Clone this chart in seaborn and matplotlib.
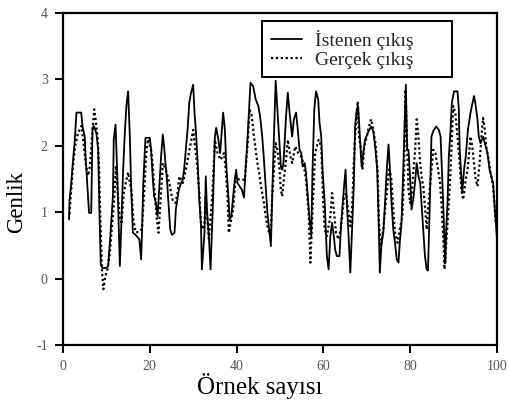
import matplotlib
matplotlib.use("Agg")
import matplotlib.pyplot as plt
import seaborn as sns
import pandas as pd

# ---- data ----
x_istenen = [1.4, 1.5, 1.9, 2.3, 2.7, 3.1, 4.2, 4.5, 5.0, 5.2, 5.5, 6.0, 6.5, 6.8, 7.1, 7.7, 8.1, 8.4, 8.7, 9.1,
             10.0, 10.4, 10.8, 11.5, 11.7, 12.1, 12.5, 13.1, 13.4, 13.8, 14.2, 14.6, 15.0, 15.4, 15.7, 16.1, 16.7,
             17.6, 18.0, 18.2, 18.5, 19.0, 20.0, 20.3, 20.7, 21.0, 21.4, 21.8, 22.3, 22.6, 23.0, 23.3, 23.6, 23.9,
             24.3, 24.7, 25.1, 25.7, 26.0, 26.7, 27.2, 27.6, 27.9, 28.3, 28.7, 29.1, 29.5, 30.0, 30.3, 30.6, 31.0,
             31.4, 31.8, 32.0, 32.6, 32.9, 33.2, 33.6, 34.0, 34.6, 35.0, 35.3, 35.8, 36.2, 36.6, 36.9, 37.3, 37.6,
             38.1, 38.4, 38.8, 39.2, 39.6, 39.9, 40.2, 40.7, 41.2, 41.7, 42.1, 42.5, 42.9, 43.2, 43.8, 44.4, 45.0,
             45.4, 45.9, 46.3, 46.7, 47.1, 47.5, 47.9, 48.2, 48.6, 49.0, 49.4, 49.8, 50.2, 50.5, 50.8, 51.4, 51.8,
             52.2, 52.8, 53.2, 53.7, 54.1, 54.5, 54.9, 55.2, 55.7, 56.0, 56.5, 56.8, 57.2, 57.5, 57.9, 58.3, 58.8,
             59.1, 59.5, 59.8, 60.3, 60.6, 60.8, 61.2, 61.6, 62.0, 62.4, 62.7, 63.1, 63.7, 64.1, 64.7, 65.1, 65.4,
             65.8, 66.2, 66.6, 67.0, 67.3, 67.7, 68.0, 68.4, 68.8, 69.2, 69.6, 70.2, 71.0, 71.5, 72.0, 72.4, 72.7,
             72.9, 73.0, 73.4, 73.8, 74.2, 74.6, 75.0, 75.3, 75.7, 76.1, 76.5, 76.9, 77.3, 77.6, 78.0, 78.4, 78.8,
             79.0, 79.3, 79.6, 80.0, 80.3, 80.7, 81.1, 81.5, 81.9, 82.3, 82.6, 83.0, 83.4, 83.8, 84.1, 84.5, 84.9,
             85.3, 86.0, 86.6, 87.0, 87.3, 87.6, 87.9, 88.1, 88.3, 88.6, 88.9, 89.3, 89.6, 90.1, 90.9, 91.2, 91.4,
             91.8, 92.0, 92.4, 92.8, 93.3, 93.9, 94.7, 95.0, 95.5, 95.8, 96.2, 96.8, 97.2, 97.8, 98.3, 98.7, 99.1,
             99.5, 100.0]
y_istenen = [0.89, 1.17, 1.44, 1.77, 2.07, 2.5, 2.5, 2.29, 2.14, 1.84, 1.52, 0.99, 0.99, 2.27, 2.3, 2.19, 1.94, 0.99, 0.21, 0.16,
             0.16, 0.19, 0.54, 1.24, 2.1, 2.32, 1.59, 0.19, 0.74, 1.54, 2.14, 2.6, 2.82, 2.14, 1.39, 0.69, 0.66,
             0.59, 0.29, 0.69, 1.44, 2.12, 2.12, 1.94, 1.49, 1.24, 1.14, 0.94, 1.49, 1.84, 2.17, 1.99, 1.74, 1.54,
             1.14, 0.74, 0.66, 0.69, 1.04, 1.34, 1.44, 1.49, 1.64, 1.94, 2.24, 2.65, 2.8, 2.92, 2.5, 2.24, 1.79,
             1.19, 0.79, 0.14, 0.69, 1.54, 0.99, 0.64, 0.14, 1.24, 2.14, 2.27, 2.09, 1.89, 2.24, 2.5, 2.24, 1.74,
             1.24, 0.89, 0.94, 1.24, 1.49, 1.64, 1.44, 1.39, 1.34, 1.22, 1.69, 2.09, 2.6, 2.95, 2.9, 2.7, 2.6,
             2.45, 2.14, 1.79, 1.39, 0.99, 0.74, 0.49, 1.24, 2.14, 2.98, 2.55, 2.14, 1.69, 1.64, 1.74, 2.45, 2.8,
             2.5, 2.14, 2.4, 2.5, 2.24, 1.94, 1.89, 1.69, 1.74, 1.59, 1.14, 0.89, 0.64, 1.64, 2.55, 2.82, 2.7,
             2.35, 2.14, 1.64, 1.14, 0.64, 0.34, 0.14, 0.64, 0.84, 0.64, 0.44, 0.34, 0.34, 0.84, 1.34, 1.64, 1.14,
             0.64, 0.09, 0.74, 1.39, 2.29, 2.55, 2.6, 2.14, 1.69, 1.89, 2.09, 2.19, 2.29, 2.22, 1.94, 1.64, 0.94,
             0.34, 0.09, 0.54, 0.69, 1.14, 1.64, 2.02, 1.69, 1.14, 0.74, 0.54, 0.29, 0.24, 0.54, 0.84, 1.64, 2.5,
             2.92, 1.94, 1.94, 1.49, 1.04, 1.19, 1.44, 1.74, 1.54, 1.44, 1.14, 0.74, 0.34, 0.14, 0.12, 1.09, 2.14,
             2.22, 2.29, 2.24, 2.14, 1.64, 1.14, 0.54, 0.24, 0.74, 1.14, 1.84, 2.24, 2.65, 2.82, 2.82, 2.55, 1.94,
             1.49, 1.29, 1.64, 1.84, 2.24, 2.5, 2.75, 2.65, 2.4, 2.14, 2.04, 2.14, 2.04, 1.89, 1.64, 1.54, 1.44,
             1.04, 0.6]

x_gercek = [1.4, 2.3, 2.8, 3.5, 4.3, 4.8, 5.3, 5.8, 6.2, 6.8, 7.2, 7.6, 8.0, 8.3, 8.6, 9.0, 9.3, 9.8, 10.3, 10.8,
            11.3, 11.8, 12.2, 12.6, 13.1, 13.5, 14.0, 14.5, 15.0, 15.4, 15.8, 16.2, 16.7,
            17.5, 18.2, 18.6, 19.2, 19.6, 20.3, 20.7, 21.0, 21.6, 22.0, 22.5, 23.0, 23.7, 24.5, 24.9, 25.3, 25.9,
            26.4, 26.8, 27.2, 27.6, 28.3, 29.0, 29.5, 30.0, 30.6, 31.0, 31.4, 31.8, 32.2, 32.6, 32.9,
            33.6, 34.4, 35.0, 35.6, 36.3, 37.1, 37.5, 37.9, 38.2, 38.6, 39.2, 39.8, 40.6, 41.3, 41.9, 42.5, 43.0,
            43.5, 44.0, 44.4, 44.8, 45.2, 45.5, 45.9, 46.3, 46.7, 47.1, 47.5, 47.9, 48.2, 49.0, 49.4, 49.9, 50.2,
            50.5, 50.8, 51.4, 51.8, 52.4, 52.8, 53.5, 54.2, 54.9, 55.4, 56.0, 56.6, 57.0, 57.5, 58.1, 58.9, 59.5,
            59.9, 60.3, 60.8, 61.6, 62.0, 62.4, 62.9, 63.5, 64.1, 64.7, 65.2, 65.8, 66.2, 66.6, 67.0,
            67.3, 67.9, 68.2, 68.7, 69.0, 69.4, 70.0, 70.5, 71.0, 71.5, 72.0, 72.5, 72.8, 73.3, 73.8, 74.2, 74.6,
            75.1, 75.6, 76.1, 76.5, 77.1, 77.6, 78.2, 78.6, 78.9, 79.6, 80.0, 80.3, 80.7, 81.1, 81.5, 81.9, 82.3,
            82.6, 83.0, 83.4, 83.8,
            84.1, 84.9, 85.3, 85.8, 86.3, 86.8, 87.2, 87.6, 87.9, 88.3, 88.9, 89.3, 89.9, 90.4, 90.9, 91.4, 91.8,
            92.2, 92.7, 93.3, 93.9, 94.3, 94.7, 95.1, 95.5, 96.0, 96.4, 96.8, 97.2, 97.5, 98.1, 98.5, 99.1, 99.5,
            99.7]
y_gercek = [0.9, 1.7, 2.0, 2.2, 2.3, 2.0, 1.7, 1.55, 1.7, 2.2, 2.55, 2.35, 2.1, 1.7, 0.9, 0.1, -0.16, 0.05, 0.15, 0.4,
            0.8, 1.2, 1.7, 1.3, 0.9, 0.85, 1.3, 1.45, 1.6, 1.45, 1.3, 0.9, 0.7,
            0.7, 0.75, 1.2, 1.9, 2.1, 1.94, 1.69, 1.39, 0.9, 0.69, 1.2, 1.74, 1.64, 1.44, 1.29, 1.17, 1.14,
            1.29, 1.54, 1.49, 1.44, 1.64, 1.89, 2.07, 2.24, 1.89, 1.64, 1.29, 0.84, 0.74, 0.84, 1.24,
            0.6, 1.24, 2.09, 1.89, 1.79, 1.89, 1.64, 1.24, 0.69, 0.84, 1.04, 1.54, 1.49, 1.49, 1.49, 1.99, 2.55,
            2.45, 2.14, 1.94, 1.74, 1.59, 1.44, 1.29, 1.14, 0.94, 0.79, 0.69, 0.74, 1.24, 2.04, 1.94, 1.64, 1.34,
            1.24, 1.44, 1.79, 2.09, 1.84, 1.74, 1.99, 1.89, 1.84, 1.74, 1.49, 0.99, 0.24, 1.04, 1.89, 2.09, 1.99,
            1.24, 0.74, 0.64, 0.94, 1.29, 1.04, 0.69, 0.59, 0.79, 1.19, 1.29, 0.99, 0.79, 1.04, 1.74,
            2.14, 2.67, 2.14, 1.94, 1.64, 1.99, 2.14, 2.29, 2.4, 2.24, 2.04, 1.59, 0.84, 0.49, 0.74, 1.04, 1.29,
            1.64, 1.54, 1.04, 0.69, 0.54, 0.74, 0.94, 1.64, 2.85, 1.34, 1.14, 1.24, 1.59, 1.89, 2.4, 2.14, 1.74,
            1.54, 1.39, 1.09, 0.74,
            1.04, 1.64, 1.94, 1.89, 1.69, 1.49, 1.14, 0.64, 0.14, 0.54, 1.14, 1.64, 2.6, 2.5, 2.14, 1.74, 1.34,
            1.19, 1.44, 1.69, 2.14, 1.99, 1.74, 1.49, 1.39, 1.74, 2.14, 2.42, 2.24, 1.99, 1.79, 1.59, 1.39, 1.04,
            0.84]

x_ticks = [0, 20, 40, 60, 80, 100]
y_ticks = [-1, 0, 1, 2, 3, 4]
labels = ["İstenen çıkış", "Gerçek çıkış"]

df_ist = pd.DataFrame({"x": x_istenen, "y": y_istenen})
df_ger = pd.DataFrame({"x": x_gercek, "y": y_gercek})

sns.set_theme(style="white")
plt.rcParams["font.family"] = ["Liberation Serif", "DejaVu Serif"]

fig = plt.figure(figsize=(5.09, 4.07), dpi=100)
ax = fig.add_axes([63 / 509, 1 - 345 / 407, 434 / 509, 332 / 407])

sns.lineplot(data=df_ist, x="x", y="y", ax=ax, color="black", lw=1.3,
             estimator=None, sort=False, label=labels[0])
sns.lineplot(data=df_ger, x="x", y="y", ax=ax, color="black", lw=1.6,
             linestyle=(0, (1, 1.2)), estimator=None, sort=False, label=labels[1])

ax.set_xlim(0, 100)
ax.set_ylim(-1, 4)
ax.set_xticks(x_ticks)
ax.set_yticks(y_ticks)
ax.set_xticklabels([str(v) for v in x_ticks])
ax.set_yticklabels([str(v) for v in y_ticks])

for s in ax.spines.values():
    s.set_visible(True)
    s.set_color("black")
    s.set_linewidth(1.6)

ax.tick_params(axis="both", which="major", direction="out", length=6, width=1.4,
               color="black", labelsize=10, labelcolor="#555555", pad=5,
               bottom=True, left=True, top=False, right=False)

ax.set_xlabel("Örnek sayısı", fontsize=18, color="black")
ax.set_ylabel("Genlik", fontsize=16.5, color="black")
ax.xaxis.set_label_coords(0.454, -0.083)
ax.yaxis.set_label_coords(-0.083, 0.43)

leg = ax.legend(loc="upper left", bbox_to_anchor=(0.4585, 0.975, 0.4378, 0.0),
                mode="expand", fontsize=14,
                frameon=True, fancybox=False, shadow=False, framealpha=1,
                edgecolor="black", borderpad=0.45, labelspacing=0.05,
                handlelength=1.6, handletextpad=0.7, borderaxespad=0)
leg.get_frame().set_linewidth(1.4)

fig.savefig("out.png", dpi=100)
